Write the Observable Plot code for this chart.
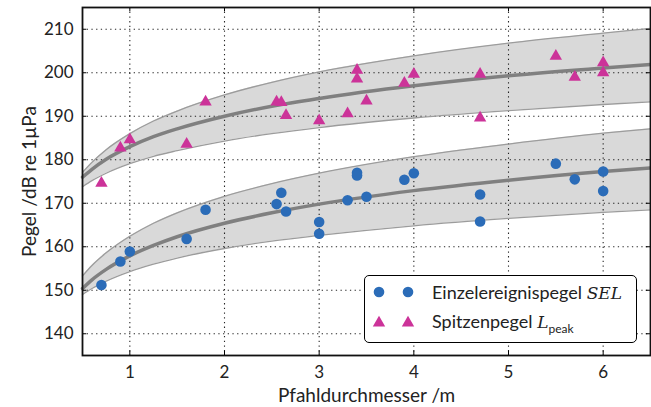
<!DOCTYPE html>
<html>
<head>
<meta charset="utf-8">
<script src="https://cdn.jsdelivr.net/npm/d3@7"></script>
<script src="https://cdn.jsdelivr.net/npm/@observablehq/plot@0.6"></script>
<style>
  html, body { margin: 0; padding: 0; background: #fff; }
  #wrap { position: relative; width: 651px; height: 407px; font-family: Lato, "Open Sans", sans-serif; }
  #legend { position: absolute; left: 364px; top: 275px; width: 271px; height: 66px;
    border: 1.6px solid #000; border-radius: 5px; background: #fff; color: #222; font-size: 18px; }
  #legend .row { position: absolute; left: 0; height: 24px; display: flex; align-items: center; }
  #legend .row span { position: absolute; left: 67px; white-space: nowrap; }
  #legend svg { position: absolute; left: 0; top: 0; }
</style>
</head>
<body>
<div id="wrap"></div>
<script>
// ---- data ----
const xTicks = [1, 2, 3, 4, 5, 6];
const yTicks = [140, 150, 160, 170, 180, 190, 200, 210];

// Einzelereignispegel SEL (blue circles)
const selX = [0.7, 0.9, 1.0, 1.6, 1.8, 2.55, 2.6, 2.65, 3.0, 3.0, 3.3, 3.4, 3.4, 3.5, 3.9, 4.0, 4.7, 4.7, 5.5, 5.7, 6.0, 6.0];
const selY = [151.2, 156.6, 158.9, 161.8, 168.5, 169.8, 172.4, 168.1, 165.7, 163.0, 170.7, 177.0, 176.4, 171.5, 175.4, 176.9, 172.0, 165.8, 179.1, 175.5, 177.3, 172.8];

// Spitzenpegel Lpeak (magenta triangles)
const peakX = [0.7, 0.9, 1.0, 1.6, 1.8, 2.55, 2.6, 2.65, 3.0, 3.3, 3.4, 3.4, 3.5, 3.9, 4.0, 4.7, 4.7, 5.5, 5.7, 6.0, 6.0];
const peakY = [174.6, 182.7, 184.6, 183.6, 193.3, 193.3, 193.2, 190.2, 189.0, 190.6, 200.6, 198.6, 193.5, 197.6, 199.7, 199.7, 189.6, 203.8, 199.0, 202.3, 200.0];

const fitX      = [0.5, 0.6, 0.75, 1, 1.25, 1.5, 2, 2.5, 3, 4, 5, 6, 6.5];
const selFit    = [150.4, 152.4, 154.8, 157.9, 160.3, 162.3, 165.4, 167.8, 169.8, 172.9, 175.3, 177.3, 178.1];
const selUpper  = [153.3, 155.7, 158.6, 162.4, 165.4, 167.8, 171.6, 174.5, 176.9, 180.7, 183.6, 186.1, 187.1];
const selLower  = [149.0, 150.4, 152.1, 154.3, 156.0, 157.4, 159.6, 161.3, 162.6, 164.8, 166.5, 167.9, 168.5];
const peakFit   = [176.0, 177.8, 180.1, 183.0, 185.3, 187.1, 190.0, 192.3, 194.1, 197.0, 199.3, 201.1, 201.9];
const peakUpper = [177.1, 179.4, 182.3, 186.0, 188.9, 191.2, 194.9, 197.8, 200.2, 203.9, 206.8, 209.1, 210.2];
const peakLower = [173.8, 175.2, 176.9, 179.1, 180.8, 182.1, 184.3, 186.0, 187.4, 189.6, 191.3, 192.7, 193.3];

const xDomain = [0.5, 6.5];
const yDomain = [135, 215];

// ---- tables ----
const sel = selX.map((x, i) => ({x, y: selY[i]}));
const peak = peakX.map((x, i) => ({x, y: peakY[i]}));
const fits = fitX.map((x, i) => ({x, selFit: selFit[i], selUpper: selUpper[i], selLower: selLower[i],
  peakFit: peakFit[i], peakUpper: peakUpper[i], peakLower: peakLower[i]}));

const blue = "#2b6cb8";
const magenta = "#cc3399";
const curve = "monotone-x";
const font = "Lato, 'Open Sans', sans-serif";

const chart = Plot.plot({
  width: 651,
  height: 407,
  marginLeft: 82,
  marginRight: 1,
  marginTop: 7,
  marginBottom: 52,
  style: {fontFamily: font, background: "#fff", color: "#222"},
  x: {domain: xDomain},
  y: {domain: yDomain},
  marks: [
    Plot.areaY(fits, {x: "x", y1: "selLower", y2: "selUpper", fill: "#d9d9d9", curve}),
    Plot.areaY(fits, {x: "x", y1: "peakLower", y2: "peakUpper", fill: "#d9d9d9", curve}),
    Plot.gridX(xTicks, {stroke: "#000", strokeOpacity: 0.85, strokeWidth: 1.1, strokeDasharray: "1.3,3.4"}),
    Plot.gridY(yTicks, {stroke: "#000", strokeOpacity: 0.85, strokeWidth: 1.1, strokeDasharray: "1.3,3.4"}),
    Plot.line(fits, {x: "x", y: "selUpper", stroke: "#9c9c9c", strokeWidth: 1.3, curve}),
    Plot.line(fits, {x: "x", y: "selLower", stroke: "#9c9c9c", strokeWidth: 1.3, curve}),
    Plot.line(fits, {x: "x", y: "peakUpper", stroke: "#9c9c9c", strokeWidth: 1.3, curve}),
    Plot.line(fits, {x: "x", y: "peakLower", stroke: "#9c9c9c", strokeWidth: 1.3, curve}),
    Plot.line(fits, {x: "x", y: "selFit", stroke: "#808080", strokeWidth: 3.5, curve}),
    Plot.line(fits, {x: "x", y: "peakFit", stroke: "#808080", strokeWidth: 3.5, curve}),
    Plot.dot(sel, {x: "x", y: "y", r: 5.3, fill: blue, symbol: "circle"}),
    Plot.dot(peak, {x: "x", y: "y", r: 4.6, fill: magenta, symbol: "triangle"}),
    // inward tick marks
    Plot.ruleX(xTicks, {y1: yDomain[0], y2: yDomain[0] + 1, stroke: "#000"}),
    Plot.ruleX(xTicks, {y1: yDomain[1], y2: yDomain[1] - 1, stroke: "#000"}),
    Plot.ruleY(yTicks, {x1: xDomain[0], x2: xDomain[0] + 0.045, stroke: "#000"}),
    Plot.ruleY(yTicks, {x1: xDomain[1], x2: xDomain[1] - 0.045, stroke: "#000"}),
    Plot.axisX(xTicks, {tickSize: 0, tickPadding: 10, fontSize: 17, label: "Pfahldurchmesser /m",
      labelAnchor: "center", labelArrow: "none", labelOffset: 46}),
    Plot.axisY(yTicks, {tickSize: 0, tickPadding: 9, fontSize: 17, label: "Pegel /dB re 1µPa",
      labelAnchor: "center", labelArrow: "none", labelOffset: 60}),
    Plot.frame({stroke: "#111", strokeWidth: 1.8})
  ]
});

// style axis labels, make sure no arrows remain
chart.querySelectorAll("g[aria-label='x-axis label'] text, g[aria-label='y-axis label'] text").forEach(t => {
  t.setAttribute("font-size", "19");
  t.textContent = t.textContent.replace(/\s*[→↑←↓]\s*/g, "").trim();
});

const wrap = document.getElementById("wrap");
wrap.appendChild(chart);

// legend
const tri = d3.symbol(d3.symbolTriangle, Math.PI * 4.6 * 4.6)();
const legend = document.createElement("div");
legend.id = "legend";
legend.innerHTML = `
  <svg width="271" height="66">
    <circle cx="14" cy="16" r="5.3" fill="${blue}"></circle>
    <circle cx="43" cy="16" r="5.3" fill="${blue}"></circle>
    <path d="${tri}" transform="translate(14,47)" fill="${magenta}"></path>
    <path d="${tri}" transform="translate(43,47)" fill="${magenta}"></path>
  </svg>
  <div class="row" style="top:4px"><span>Einzelereignispegel <i style="font-family:'DejaVu Serif',serif;font-size:17px">SEL</i></span></div>
  <div class="row" style="top:35px"><span>Spitzenpegel <i style="font-family:'DejaVu Serif',serif;font-size:17px">L</i><sub style="font-size:12px">peak</sub></span></div>
`;
wrap.appendChild(legend);
</script>
</body>
</html>
